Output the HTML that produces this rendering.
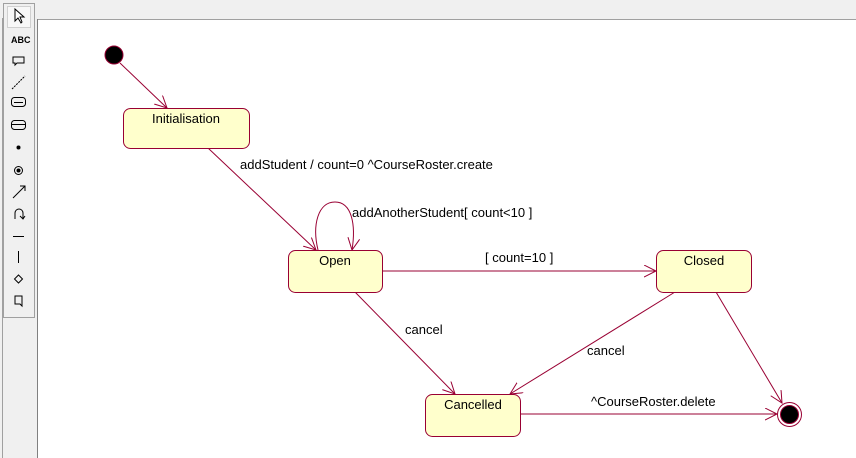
<!DOCTYPE html>
<html><head><style>
body{margin:0;width:856px;height:458px;overflow:hidden;background:#f0f0f0;font-family:"Liberation Sans",Arial,sans-serif}
</style></head><body>
<svg width="856" height="458" xmlns="http://www.w3.org/2000/svg" style="position:absolute;left:0;top:0">
<defs><marker id="a" markerWidth="14" markerHeight="14" refX="12" refY="6" orient="auto" markerUnits="userSpaceOnUse"><path d="M0,0 L12,6 L0,12" fill="none" stroke="#990033" stroke-width="1"/></marker></defs>
<rect x="0" y="0" width="856" height="458" fill="#f0f0f0"/>
<rect x="38" y="20" width="818" height="438" fill="#fff"/>
<line x1="38" y1="19.5" x2="856" y2="19.5" stroke="#a0a0a0"/>
<line x1="37.5" y1="19" x2="37.5" y2="458" stroke="#808080"/>
<line x1="2.5" y1="18" x2="2.5" y2="458" stroke="#a0a0a0"/>
<rect x="3.5" y="3.5" width="31" height="314" fill="#f0f0f0" stroke="#a0a0a0"/>
<rect x="7.5" y="6.5" width="23" height="21" fill="#f8f8f8" stroke="#d0d0d0"/>
<g stroke="#000" fill="none" stroke-width="1">
<path d="M15,9 L15,21 L18,18 L21,23 L22,22 L20,17 L24,17 Z" fill="#fff"/>
<path d="M13,57 h11 v6 h-7 l-2,2 v-2 h-2z"/>
<line x1="12" y1="89" x2="25" y2="76" stroke-dasharray="2,1"/>
<rect x="11.5" y="97.5" width="14" height="9" rx="3"/><line x1="14" y1="102.5" x2="23" y2="102.5"/>
<rect x="11.5" y="120.5" width="14" height="9" rx="3"/><line x1="12" y1="124.5" x2="25" y2="124.5"/>
<circle cx="18.5" cy="170.5" r="4"/>
<line x1="13" y1="198" x2="25" y2="186"/><path d="M20,186 h5 v5"/>
<path d="M15,219 v-6 a4,4 0 0 1 8,0 v6 M20,216 l3,3 l2,-3"/>
<line x1="13" y1="236.5" x2="24" y2="236.5"/>
<line x1="18.5" y1="251" x2="18.5" y2="263"/>
<path d="M18.5,275 l4,4 l-4,4 l-4,-4z"/>
<path d="M15,296 h7 v10 l-2,-2 h-5z"/>
</g>
<circle cx="18.5" cy="147.5" r="2" fill="#000"/>
<circle cx="18.5" cy="170.5" r="2" fill="#000"/>
<text x="11" y="43" font-size="9" font-weight="bold">ABC</text>

<g stroke="#990033" fill="none" stroke-width="1">
<line x1="120" y1="63" x2="167" y2="108" marker-end="url(#a)"/>
<line x1="208" y1="148" x2="316" y2="250" marker-end="url(#a)"/>
<path d="M318,250 C312,225 318,202 335,202 C352,202 356,225 352,250" marker-end="url(#a)"/>
<line x1="382" y1="271" x2="656" y2="271" marker-end="url(#a)"/>
<line x1="355" y1="292" x2="455" y2="394" marker-end="url(#a)"/>
<line x1="675" y1="292" x2="510" y2="394" marker-end="url(#a)"/>
<line x1="716" y1="292" x2="782" y2="403" marker-end="url(#a)"/>
<line x1="520" y1="414" x2="777" y2="414" marker-end="url(#a)"/>
</g>
<circle cx="114" cy="55" r="9" fill="#000" stroke="#990033"/>
<circle cx="789.5" cy="414.5" r="12" fill="#fff" stroke="#990033"/>
<circle cx="789.5" cy="414.5" r="9" fill="#000" stroke="#990033"/>
<g fill="#ffffcc" stroke="#990033">
<rect x="123.5" y="108.5" width="126" height="40" rx="7"/>
<rect x="288.5" y="250.5" width="94" height="42" rx="7"/>
<rect x="656.5" y="250.5" width="95" height="42" rx="7"/>
<rect x="425.5" y="394.5" width="95" height="42" rx="7"/>
</g>
<g font-size="13" fill="#000" text-anchor="middle">
<text x="186" y="123">Initialisation</text>
<text x="335" y="265">Open</text>
<text x="704" y="265">Closed</text>
<text x="473" y="409">Cancelled</text>
</g>
<g font-size="13" fill="#000">
<text x="240" y="169">addStudent / count=0 ^CourseRoster.create</text>
<text x="352" y="217">addAnotherStudent[ count&lt;10 ]</text>
<text x="485" y="262">[ count=10 ]</text>
<text x="405" y="334">cancel</text>
<text x="587" y="355">cancel</text>
<text x="591" y="406">^CourseRoster.delete</text>
</g>
</svg>
</body></html>
